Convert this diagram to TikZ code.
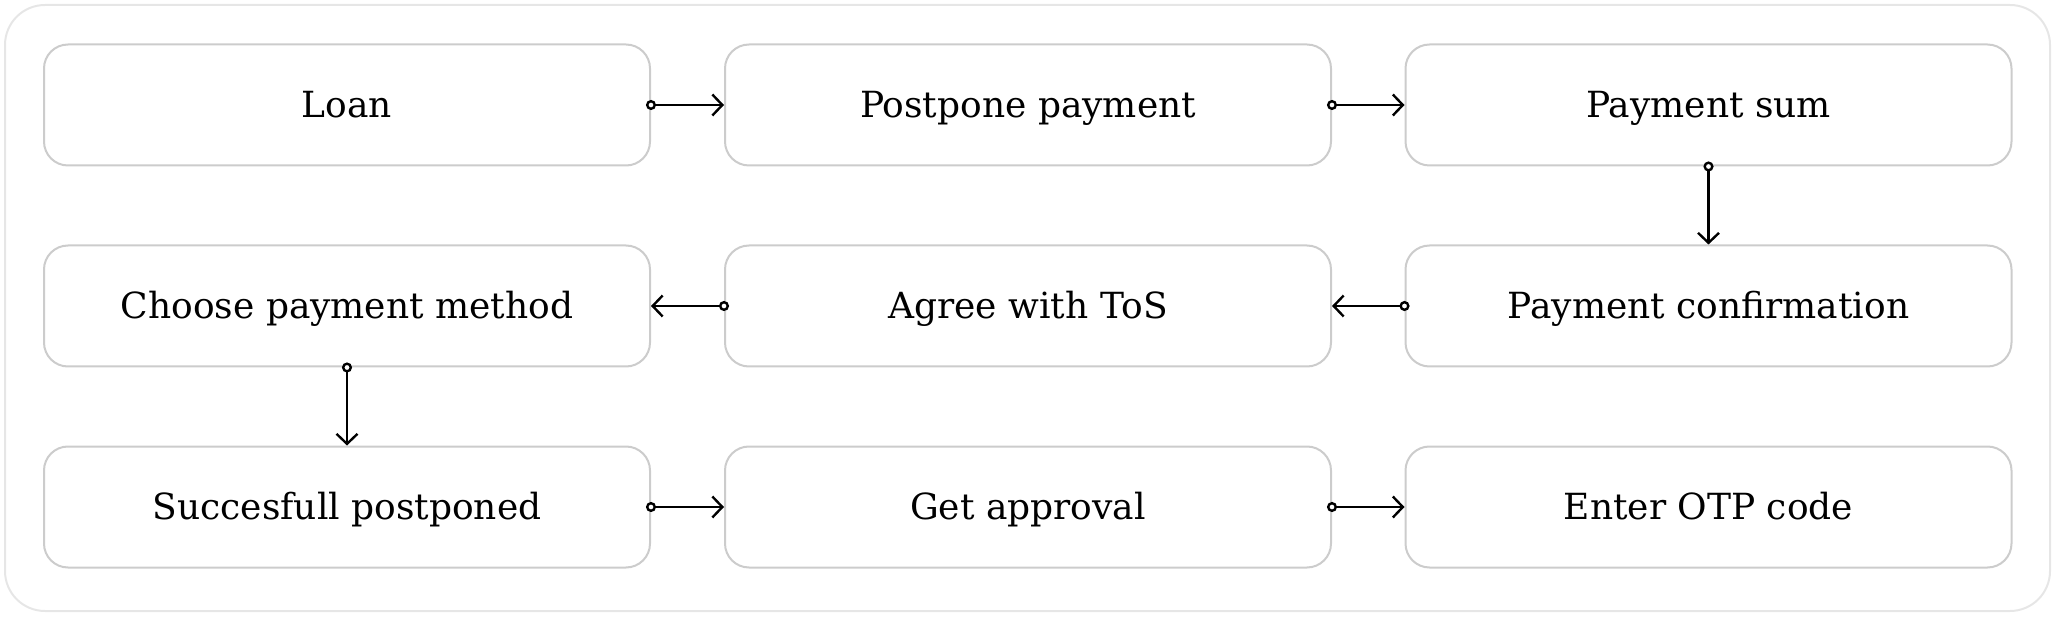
\documentclass[tikz,border=0pt]{standalone}
\usepackage{fontspec}
\setmainfont{DejaVu Serif}
\usetikzlibrary{arrows.meta}
\definecolor{boxline}{HTML}{CCCCCC}
\definecolor{frameline}{HTML}{E6E6E6}
\tikzset{
  stepbox/.style={draw=boxline, line width=2pt, rounded corners=24pt, fill=white,
    minimum width=606pt, minimum height=121pt, inner sep=0pt,
    text height=27pt, text depth=1.6pt,
    font=\fontsize{36}{43}\selectfont, text=black},
  conn/.style={line width=2.4pt, draw=black,
    {Circle[open,length=10pt,line width=2.4pt,fill=white]}-{Straight Barb[length=10pt,width=21pt,line width=2.4pt]},
    shorten <=-5pt}
}
\begin{document}
\begin{tikzpicture}[x=1pt,y=-1pt]
\useasboundingbox (0,0) rectangle (2056,617);
\draw[frameline, line width=2pt, rounded corners=40pt] (5,5) rectangle (2050,611);
\node[stepbox] (loan) at (347,105) {Loan};
\node[stepbox] (postpone) at (1028,105) {Postpone payment};
\node[stepbox] (sum) at (1708.5,105) {Payment sum};
\node[stepbox] (choose) at (347,306) {Choose payment method};
\node[stepbox] (tos) at (1028,306) {Agree with ToS};
\node[stepbox] (confirm) at (1708.5,306) {Payment confirmation};
\node[stepbox] (success) at (347,507) {Succesfull postponed};
\node[stepbox] (approval) at (1028,507) {Get approval};
\node[stepbox] (otp) at (1708.5,507) {Enter OTP code};
\draw[conn] (loan.east) -- (postpone.west);
\draw[conn] (postpone.east) -- (sum.west);
\draw[conn] (sum.south) -- (confirm.north);
\draw[conn] (confirm.west) -- (tos.east);
\draw[conn] (tos.west) -- (choose.east);
\draw[conn] (choose.south) -- (success.north);
\draw[conn] (success.east) -- (approval.west);
\draw[conn] (approval.east) -- (otp.west);
\end{tikzpicture}
\end{document}
